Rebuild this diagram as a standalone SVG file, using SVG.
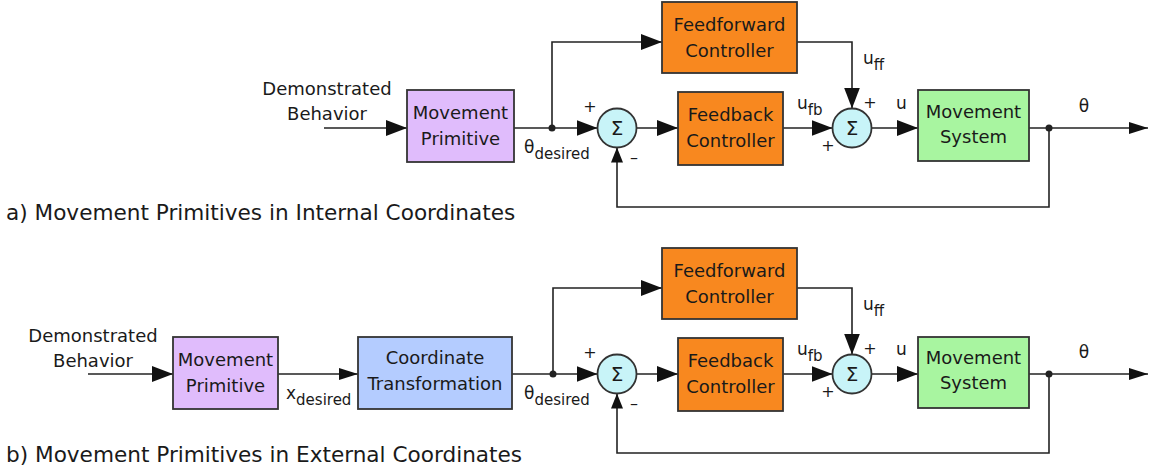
<svg xmlns="http://www.w3.org/2000/svg" width="1151" height="471" viewBox="0 0 1151 471">
  <style>
    .box { stroke: #333; stroke-width: 1.8; }
    .prim { fill: #e0bcfc; }
    .ff { fill: #f8881f; }
    .coord { fill: #b4ccff; }
    .sys { fill: #a8f5a0; }
    .sum { fill: #c8f4f8; stroke: #333; stroke-width: 1.8; }
    .wire { fill: none; stroke: #222; stroke-width: 1.6; }
    .dot { fill: #222; }
    text { font-family: "DejaVu Sans", "Liberation Sans", sans-serif; fill: #1a1a1a; }
    .t { font-size: 18px; text-anchor: middle; }
    .sig { font-size: 20px; text-anchor: middle; }
    .lbl { font-size: 17px; }
    .sub { font-size: 15px; }
    .sign { font-size: 16px; text-anchor: middle; }
    .cap { font-size: 21.6px; }
  </style>
  <defs>
    <marker id="arr" markerUnits="userSpaceOnUse" markerWidth="21" markerHeight="16" refX="21" refY="8" orient="auto">
      <path d="M0,0 L21,8 L0,16 Z" fill="#111"/>
    </marker>
    <marker id="arrS" markerUnits="userSpaceOnUse" markerWidth="19" markerHeight="12" refX="19" refY="6" orient="auto">
      <path d="M0,0 L19,6 L0,12 Z" fill="#111"/>
    </marker>
    <marker id="arrF" markerUnits="userSpaceOnUse" markerWidth="15" markerHeight="12" refX="15" refY="6" orient="auto">
      <path d="M0,0 L15,6 L0,12 Z" fill="#111"/>
    </marker>
  </defs>

  <!-- connectors -->
  <g id="connectors">
    <!-- a) internal coordinates -->
    <path class="wire" d="M324,128 H407" marker-end="url(#arr)"/>
    <path class="wire" d="M514,128 H597.5" marker-end="url(#arr)"/>
    <path class="wire" d="M552,128 V42 H662" marker-end="url(#arr)"/>
    <path class="wire" d="M636.5,128 H678" marker-end="url(#arr)"/>
    <path class="wire" d="M783,128 H832.5" marker-end="url(#arr)"/>
    <path class="wire" d="M797,42 H852 V108.5" marker-end="url(#arr)"/>
    <path class="wire" d="M871.5,128 H918" marker-end="url(#arr)"/>
    <path class="wire" d="M1029,128 H1148" marker-end="url(#arrS)"/>
    <path class="wire" d="M1049,128 V207 H617 V147.5" marker-end="url(#arrF)"/>
    <circle class="dot" cx="552" cy="128" r="3.5"/>
    <circle class="dot" cx="1049" cy="128" r="3.5"/>

    <!-- b) external coordinates -->
    <path class="wire" d="M88,374 H173" marker-end="url(#arr)"/>
    <path class="wire" d="M278,374 H358" marker-end="url(#arrS)"/>
    <path class="wire" d="M512,374 H597.5" marker-end="url(#arr)"/>
    <path class="wire" d="M553,374 V288 H662" marker-end="url(#arr)"/>
    <path class="wire" d="M636.5,374 H678" marker-end="url(#arr)"/>
    <path class="wire" d="M783,374 H832.5" marker-end="url(#arr)"/>
    <path class="wire" d="M797,288 H852 V354.5" marker-end="url(#arr)"/>
    <path class="wire" d="M871.5,374 H918" marker-end="url(#arr)"/>
    <path class="wire" d="M1029,374 H1148" marker-end="url(#arrS)"/>
    <path class="wire" d="M1049,374 V453 H617 V393.5" marker-end="url(#arrF)"/>
    <circle class="dot" cx="553" cy="374" r="3.5"/>
    <circle class="dot" cx="1049" cy="374" r="3.5"/>
  </g>

  <!-- connector labels, a) -->
  <g id="labels-a">
    <text class="t" x="327" y="95">Demonstrated</text>
    <text class="t" x="327" y="120">Behavior</text>
    <text class="lbl" x="524" y="153">θ<tspan class="sub" dy="6">desired</tspan></text>
    <text class="lbl" x="863" y="64">u<tspan class="sub" dy="6">ff</tspan></text>
    <text class="lbl" x="797" y="109">u<tspan class="sub" dy="6">fb</tspan></text>
    <text class="lbl" x="896" y="109">u</text>
    <text class="lbl" x="1084" y="112" text-anchor="middle">θ</text>
    <text class="sign" x="590" y="112">+</text>
    <text class="sign" x="634" y="163">–</text>
    <text class="sign" x="870" y="108">+</text>
    <text class="sign" x="828" y="151">+</text>
  </g>

  <!-- connector labels, b) -->
  <g id="labels-b">
    <text class="t" x="93" y="342">Demonstrated</text>
    <text class="t" x="93" y="367">Behavior</text>
    <text class="lbl" x="286" y="399">x<tspan class="sub" dy="6">desired</tspan></text>
    <text class="lbl" x="524" y="399">θ<tspan class="sub" dy="6">desired</tspan></text>
    <text class="lbl" x="863" y="310">u<tspan class="sub" dy="6">ff</tspan></text>
    <text class="lbl" x="797" y="355">u<tspan class="sub" dy="6">fb</tspan></text>
    <text class="lbl" x="896" y="355">u</text>
    <text class="lbl" x="1084" y="358" text-anchor="middle">θ</text>
    <text class="sign" x="590" y="358">+</text>
    <text class="sign" x="634" y="409">–</text>
    <text class="sign" x="870" y="354">+</text>
    <text class="sign" x="828" y="397">+</text>
  </g>

  <!-- a) nodes -->
  <g id="a-primitive">
    <rect class="box prim" x="407" y="90" width="107" height="72"/>
    <text class="t" x="460.5" y="119">Movement</text>
    <text class="t" x="460.5" y="145">Primitive</text>
  </g>
  <g id="a-sum1">
    <circle class="sum" cx="617" cy="128" r="19.5"/>
    <text class="sig" x="617" y="135">Σ</text>
  </g>
  <g id="a-feedforward">
    <rect class="box ff" x="662" y="2" width="135" height="71"/>
    <text class="t" x="729.5" y="30.5">Feedforward</text>
    <text class="t" x="729.5" y="56.5">Controller</text>
  </g>
  <g id="a-feedback">
    <rect class="box ff" x="678" y="92" width="105" height="73"/>
    <text class="t" x="730.5" y="121">Feedback</text>
    <text class="t" x="730.5" y="147">Controller</text>
  </g>
  <g id="a-sum2">
    <circle class="sum" cx="852" cy="128" r="19.5"/>
    <text class="sig" x="852" y="135">Σ</text>
  </g>
  <g id="a-system">
    <rect class="box sys" x="918" y="90" width="111" height="71"/>
    <text class="t" x="973.5" y="117.5">Movement</text>
    <text class="t" x="973.5" y="143">System</text>
  </g>
  <text id="caption-a" class="cap" x="6" y="220">a) Movement Primitives in Internal Coordinates</text>

  <!-- b) nodes -->
  <g id="b-primitive">
    <rect class="box prim" x="173" y="337" width="105" height="72"/>
    <text class="t" x="225.5" y="366">Movement</text>
    <text class="t" x="225.5" y="392">Primitive</text>
  </g>
  <g id="b-transform">
    <rect class="box coord" x="358" y="337" width="154" height="72"/>
    <text class="t" x="435" y="364">Coordinate</text>
    <text class="t" x="435" y="390">Transformation</text>
  </g>
  <g id="b-sum1">
    <circle class="sum" cx="617" cy="374" r="19.5"/>
    <text class="sig" x="617" y="381">Σ</text>
  </g>
  <g id="b-feedforward">
    <rect class="box ff" x="662" y="248" width="135" height="71"/>
    <text class="t" x="729.5" y="276.5">Feedforward</text>
    <text class="t" x="729.5" y="302.5">Controller</text>
  </g>
  <g id="b-feedback">
    <rect class="box ff" x="678" y="338" width="105" height="73"/>
    <text class="t" x="730.5" y="367">Feedback</text>
    <text class="t" x="730.5" y="393">Controller</text>
  </g>
  <g id="b-sum2">
    <circle class="sum" cx="852" cy="374" r="19.5"/>
    <text class="sig" x="852" y="381">Σ</text>
  </g>
  <g id="b-system">
    <rect class="box sys" x="918" y="337" width="111" height="71"/>
    <text class="t" x="973.5" y="363.5">Movement</text>
    <text class="t" x="973.5" y="389">System</text>
  </g>
  <text id="caption-b" class="cap" x="6" y="462">b) Movement Primitives in External Coordinates</text>
</svg>
